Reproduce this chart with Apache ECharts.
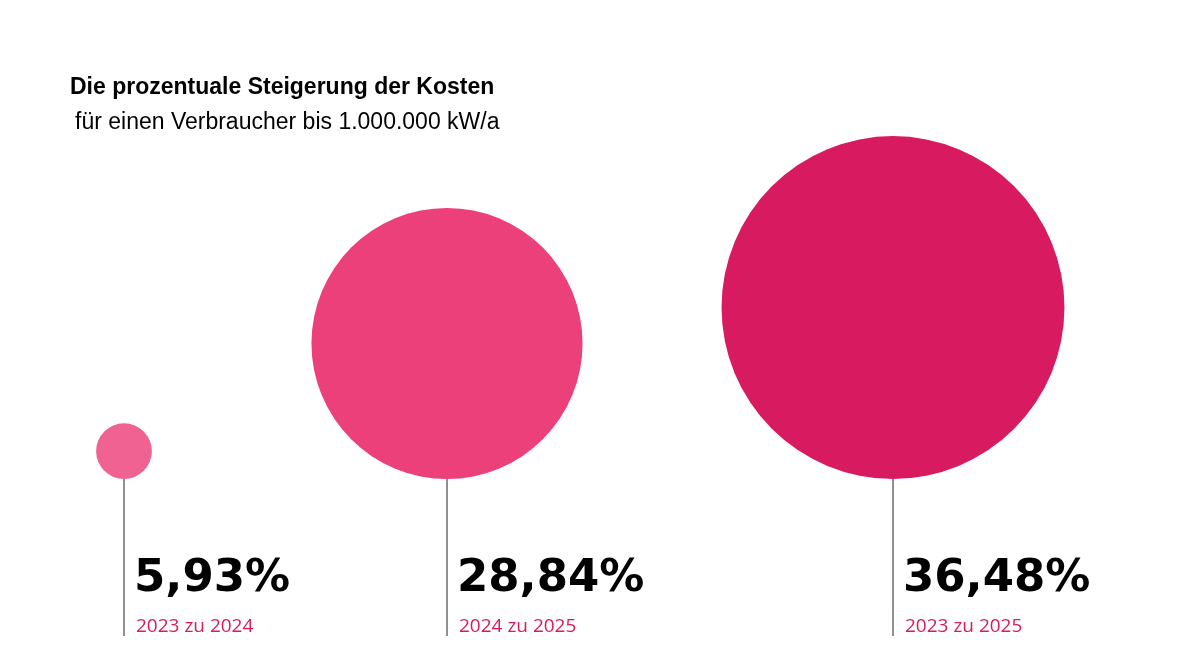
<!DOCTYPE html>
<html><head><meta charset="utf-8">
<script src="https://cdn.jsdelivr.net/npm/echarts@6/dist/echarts.min.js"></script>
<style>html,body{margin:0;padding:0;background:#fff}#c{width:1200px;height:672px}</style>
</head><body><div id="c"></div>
<script>
const categories = ['2023 zu 2024', '2024 zu 2025', '2023 zu 2025'];
const values = [5.93, 28.84, 36.48];
const labels = ['5,93%', '28,84%', '36,48%'];
const xSlots = [124, 447, 893];
const colors = ['#f06292', '#ec407a', '#d81b60'];
const baseline = 479, lineEnd = 636, sizePerPct = 9.4;

const chart = echarts.init(document.getElementById('c'));
const pts = values.map((v, i) => ({value: [xSlots[i], baseline, v, i], itemStyle: {color: colors[i], opacity: 1}}));
chart.setOption({
  animation: false,
  graphic: [
    {type: 'text', left: 70, top: 76, style: {text: 'Die prozentuale Steigerung der Kosten', fill: '#000',
      font: 'bold 23px "Liberation Sans", Arial'}},
    {type: 'text', left: 75, top: 111, style: {text: 'für einen Verbraucher bis 1.000.000 kW/a', fill: '#000',
      font: '23px "Liberation Sans", Arial'}}
  ],
  grid: {left: 0, right: 0, top: 0, bottom: 0},
  xAxis: {type: 'value', min: 0, max: 1200, show: false},
  yAxis: {type: 'value', min: 0, max: 672, inverse: true, show: false},
  series: [
    {
      type: 'custom', data: pts, z: 1,
      renderItem: (params, api) => {
        const p = api.coord([api.value(0), api.value(1)]);
        const i = api.value(3);
        return {type: 'group', children: [
          {type: 'line', shape: {x1: p[0], y1: p[1], x2: p[0], y2: lineEnd}, style: {stroke: '#222', lineWidth: 1}},
          {type: 'text', style: {x: p[0] + 10, y: 602, text: labels[i], fill: '#000',
            font: 'bold 45px "DejaVu Sans"', textVerticalAlign: 'bottom'}},
          {type: 'text', style: {x: p[0] + 12, y: 636, text: categories[i], fill: '#d81b60',
            font: '19px "Open Sans", sans-serif', textVerticalAlign: 'bottom'}}
        ]};
      }
    },
    {
      type: 'scatter', data: pts, z: 2,
      symbolSize: d => d[2] * sizePerPct,
      symbolOffset: [0, '-50%'],
      emphasis: {disabled: true}
    }
  ]
});
</script></body></html>
